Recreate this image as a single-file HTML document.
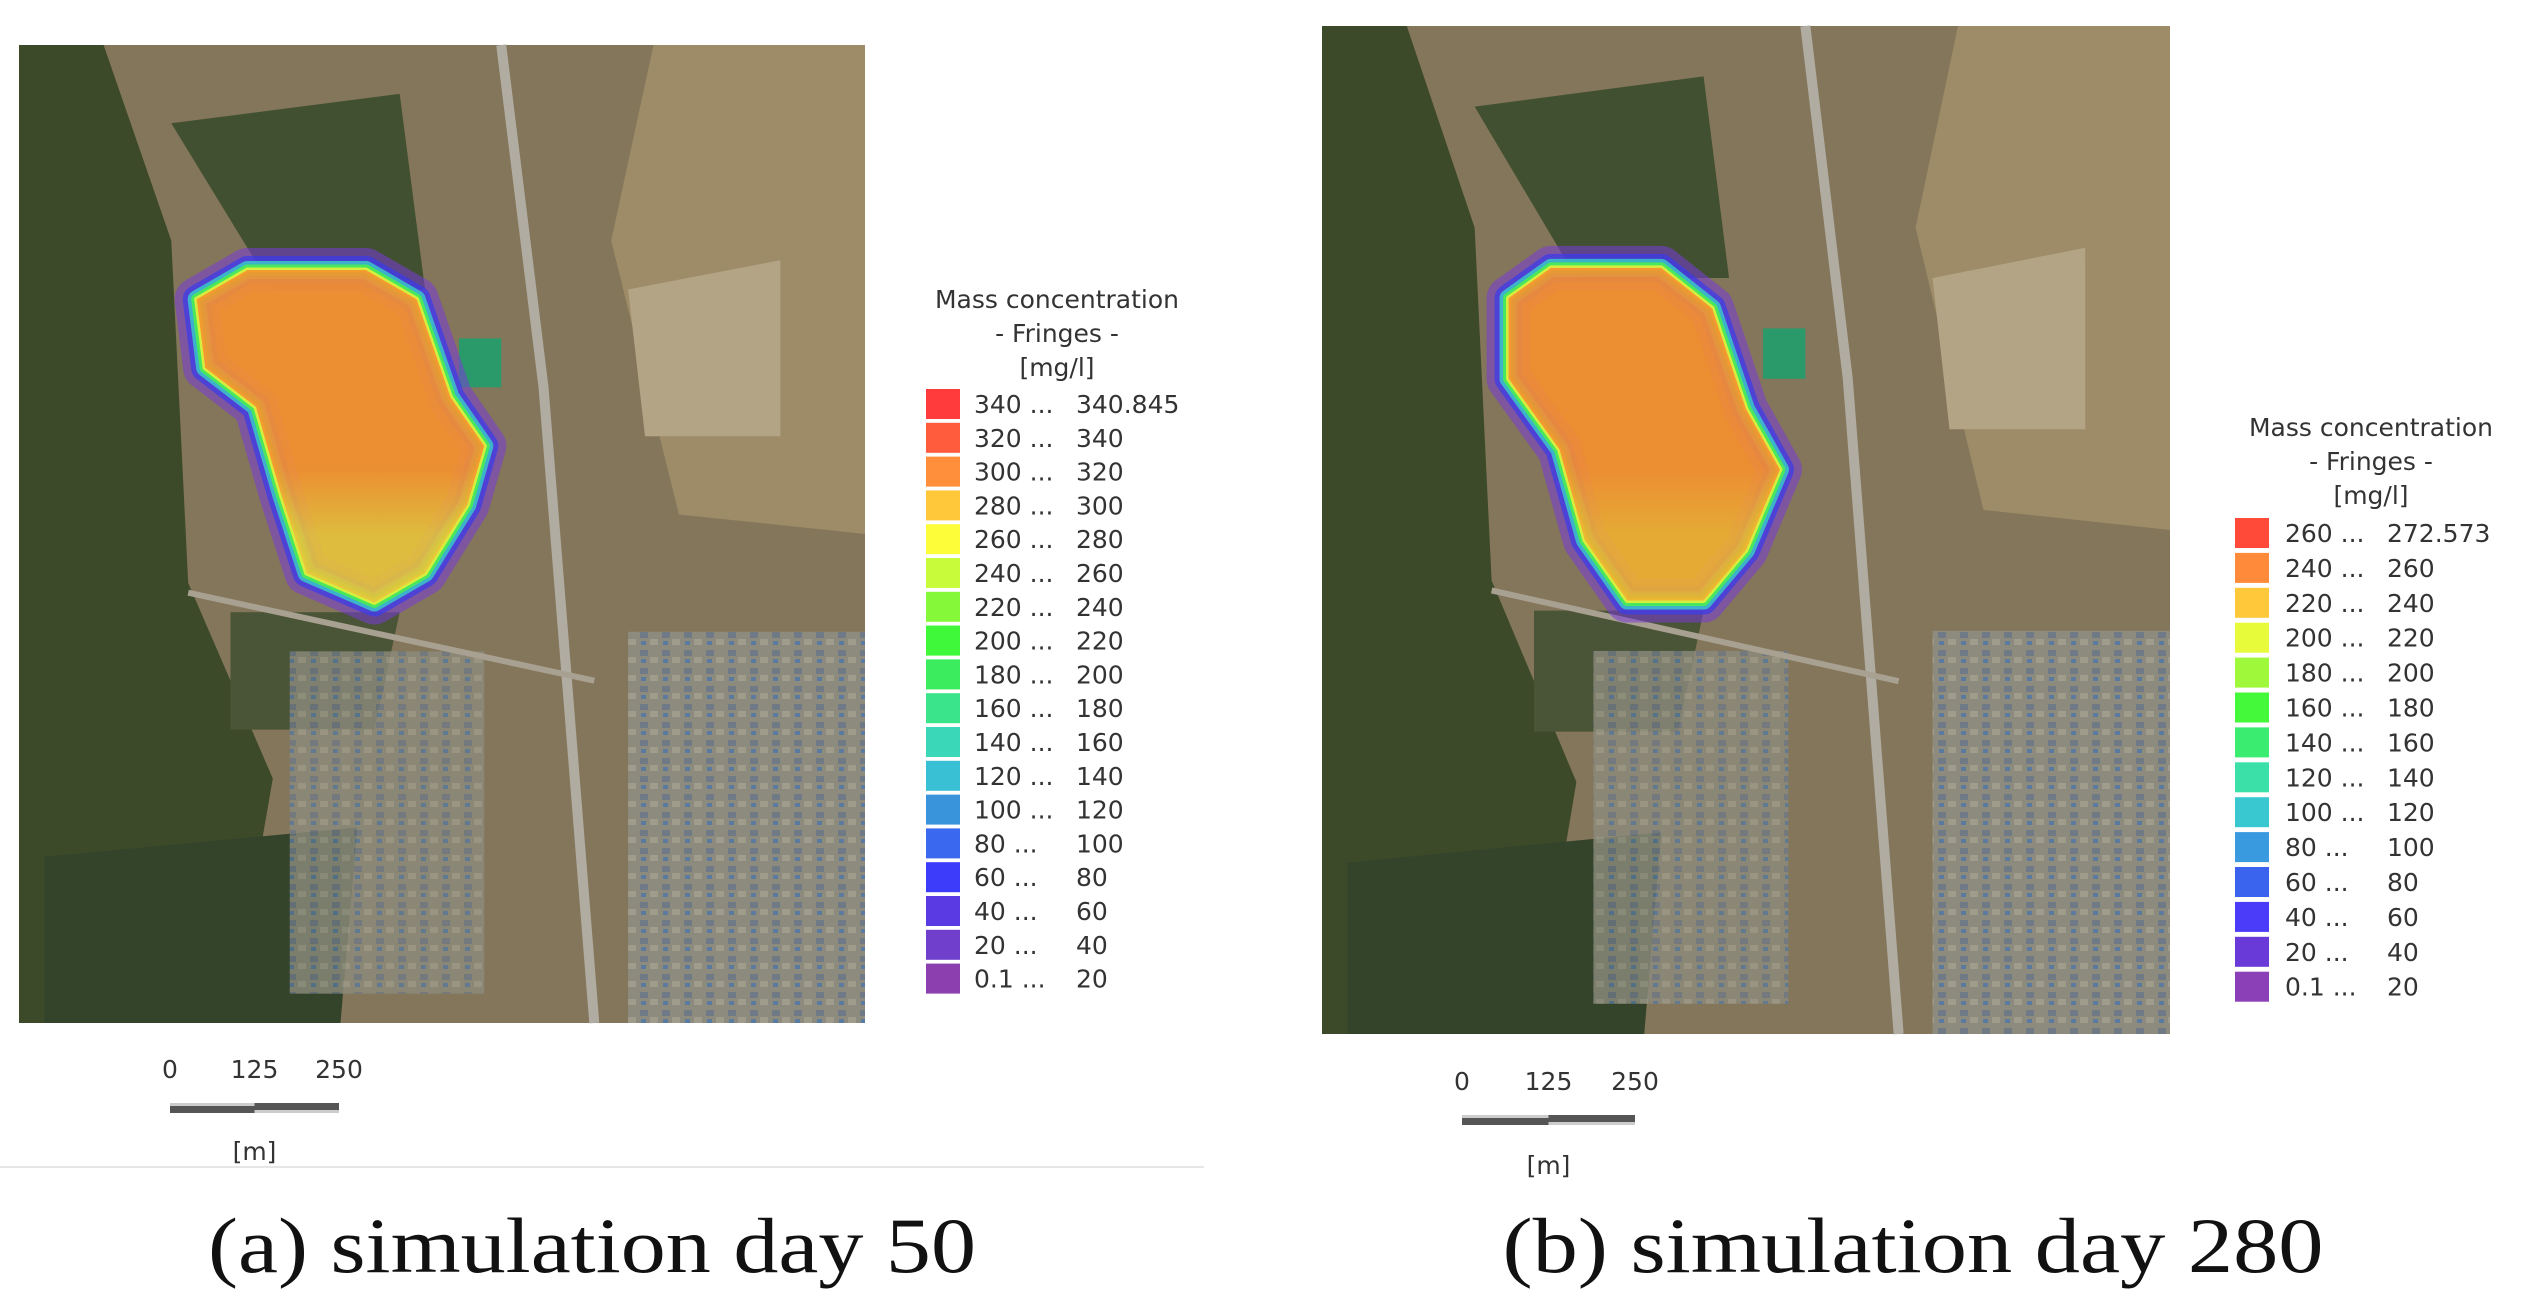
<!DOCTYPE html>
<html><head><meta charset="utf-8"><style>
html,body{margin:0;padding:0;background:#fff;width:2534px;height:1309px;overflow:hidden}
svg{display:block}
.lg{font-family:"DejaVu Sans","Liberation Sans",sans-serif;font-size:25px;fill:#333}
.cap{font-family:"Liberation Serif",serif;font-size:78px;fill:#111}
</style></head><body>
<svg id="fig" width="2534" height="1309" viewBox="0 0 2534 1309">
<defs>
<pattern id="town" width="22" height="18" patternUnits="userSpaceOnUse">
<rect width="22" height="18" fill="#8d8b7e"/><rect x="2" y="2" width="8" height="6" fill="#6f7a86"/><rect x="12" y="9" width="8" height="6" fill="#a09c8c"/><rect x="3" y="11" width="5" height="4" fill="#5a7aa0"/>
</pattern>
</defs>
<g id="mapA"></g>
<g id="mapB"></g>
<g id="legA"></g>
<g id="legB"></g>
<line x1="0" y1="1167" x2="1204" y2="1167" stroke="#e6e6e6" stroke-width="2"/>
<text class="cap" x="592" y="1272" text-anchor="middle" textLength="768" lengthAdjust="spacingAndGlyphs">(a) simulation day 50</text>
<text class="cap" x="1913" y="1272" text-anchor="middle" textLength="821" lengthAdjust="spacingAndGlyphs">(b) simulation day 280</text>
</svg>
<script>
const NS="http://www.w3.org/2000/svg";
const legendLowA=["340","320","300","280","260","240","220","200","180","160","140","120","100","80","60","40","20","0.1"];
const legendHighA=["340.845","340","320","300","280","260","240","220","200","180","160","140","120","100","80","60","40","20"];
const legendColorsA=["#ff3b3b","#ff5c3d","#ff8f3a","#ffc83a","#fdfd3a","#c8fb3a","#86f83a","#40f83a","#3aec5e","#3ae48a","#3ad8b8","#3ac0d4","#3a94dc","#3a68ee","#3c3cfa","#5a3ae2","#7040cc","#8c40b0"];
const legendLowB=["260","240","220","200","180","160","140","120","100","80","60","40","20","0.1"];
const legendHighB=["272.573","260","240","220","200","180","160","140","120","100","80","60","40","20"];
const legendColorsB=["#ff4a3a","#ff8a3a","#ffc83a","#e8fb3a","#a0f83a","#44f83a","#3aec70","#3ae0a8","#3ac8d0","#3a9ae0","#3a64ee","#4a3cf8","#6a3ad8","#8c40b8"];
const scaleTicks=["0","125","250"];

function el(tag,attrs,parent){const e=document.createElementNS(NS,tag);for(const k in attrs)e.setAttribute(k,attrs[k]);parent.appendChild(e);return e;}

function legend(g,cx,titleY,sx,textX,text2X,y0,step,lows,highs,cols){
  const t=["Mass concentration","- Fringes -","[mg/l]"];
  t.forEach((s,i)=>{const e=el("text",{class:"lg",x:cx,y:titleY+i*34,"text-anchor":"middle"},g);e.textContent=s;
    
    });
  lows.forEach((lo,i)=>{
    const y=y0+i*step;
    const r=el("rect",{x:sx,y:y-15,width:34,height:30,fill:cols[i]},g);
    
    
    const a=el("text",{class:"lg",x:textX,y:y+9},g);a.textContent=lo+" ...";
    
    
    const b=el("text",{class:"lg",x:text2X,y:y+9},g);b.textContent=highs[i];
    
    
  });
}
legend(document.getElementById("legA"),1057,308,926,974,1076,404,33.8,legendLowA,legendHighA,legendColorsA);
legend(document.getElementById("legB"),2371,436,2235,2285,2387,533,34.9,legendLowB,legendHighB,legendColorsB);

function map(g,x,y,w,h,plume,fillTop,fillBot){
  const S=(px,py)=>[x+px*w,y+py*h];
  el("rect",{x:x,y:y,width:w,height:h,fill:"#84765a"},g);
  const P=(pts,fill)=>el("path",{d:"M"+pts.map(p=>S(p[0],p[1]).join(",")).join("L")+"Z",fill:fill},g);
  P([[0,0],[0.1,0],[0.18,0.2],[0.2,0.55],[0.3,0.75],[0.25,1],[0,1]],"#3c4a2a");
  P([[0.18,0.08],[0.45,0.05],[0.48,0.25],[0.3,0.25]],"#425032");
  P([[0.03,0.83],[0.4,0.8],[0.38,1],[0.03,1]],"#34442a");
  P([[0.25,0.58],[0.45,0.58],[0.42,0.7],[0.25,0.7]],"#4a5436");
  P([[0.75,0],[1,0],[1,0.5],[0.78,0.48],[0.7,0.2]],"#9e8c68");
  P([[0.72,0.25],[0.9,0.22],[0.9,0.4],[0.74,0.4]],"#b2a484");
  const tx=S(0.72,0.6), te=S(1,1);
  el("rect",{x:tx[0],y:tx[1],width:te[0]-tx[0],height:te[1]-tx[1],fill:"url(#town)"},g);
  const t2=S(0.32,0.62), t3=S(0.55,0.97);
  el("rect",{x:t2[0],y:t2[1],width:t3[0]-t2[0],height:t3[1]-t2[1],fill:"url(#town)",opacity:0.8},g);
  const r1=S(0.57,0),r2=S(0.62,0.35),r3=S(0.68,1);
  el("path",{d:`M${r1}L${r2}L${r3}`,fill:"none",stroke:"#b0aca2","stroke-width":10},g);
  const ro1=S(0.2,0.56),ro2=S(0.68,0.65);
  el("path",{d:`M${ro1}L${ro2}`,fill:"none",stroke:"#a8a090","stroke-width":6},g);
  const pd=S(0.52,0.3);
  el("rect",{x:pd[0],y:pd[1],width:w*0.05,height:h*0.05,fill:"#2a9a6a"},g);
  const d="M"+plume.map(p=>S(p[0],p[1]).join(",")).join("L")+"Z";
  [["#7a3ad8",44,0.55],["#3a3aee",28,0.7],["#3ad0c8",18,0.8],["#4af04a",11,0.85],["#f0f03a",5,0.85]].forEach(s=>{
    el("path",{d:d,fill:"none",stroke:s[0],"stroke-width":s[1],"stroke-linejoin":"round",opacity:s[2]},g);});
  const gid="g"+Math.round(x);
  const lg=el("linearGradient",{id:gid,x1:0,y1:0,x2:0,y2:1},g);
  el("stop",{offset:"0.6",["stop-color"]:fillTop},lg);
  el("stop",{offset:"0.8",["stop-color"]:fillBot},lg);
  el("path",{d:d,fill:`url(#${gid})`,opacity:0.9},g);
}
const plumeA=[[0.21,0.26],[0.27,0.23],[0.41,0.23],[0.47,0.26],[0.51,0.36],[0.55,0.41],[0.53,0.47],[0.48,0.54],[0.42,0.57],[0.34,0.54],[0.31,0.46],[0.28,0.37],[0.22,0.33]];
const plumeB=[[0.22,0.27],[0.27,0.24],[0.4,0.24],[0.46,0.28],[0.5,0.38],[0.54,0.44],[0.5,0.52],[0.45,0.57],[0.36,0.57],[0.31,0.51],[0.28,0.42],[0.22,0.35]];
map(document.getElementById("mapA"),19,45,846,978,plumeA,"#f7922e","#e8c43a");
map(document.getElementById("mapB"),1322,26,848,1008,plumeB,"#f7902e","#f0b030");

function scalebar(x0,x1,yl,yb,ym){
  const g=el("g",{},document.getElementById("fig"));
  
  
  const mid=(x0+x1)/2;
  el("rect",{x:x0,y:yb-5,width:mid-x0,height:10,fill:"#555"},g);
  el("rect",{x:mid,y:yb-5,width:x1-mid,height:10,fill:"#555"},g);
  el("rect",{x:x0,y:yb-5,width:mid-x0,height:3,fill:"#ccc"},g);
  el("rect",{x:mid,y:yb+2,width:x1-mid,height:3,fill:"#ccc"},g);
  scaleTicks.forEach((s,i)=>{const t=el("text",{class:"lg",x:x0+(x1-x0)*i/2,y:yl,"text-anchor":"middle"},g);t.textContent=s;});
  const m=el("text",{class:"lg",x:mid,y:ym,"text-anchor":"middle"},g);m.textContent="[m]";
}
scalebar(170,339,1078,1108,1160);
scalebar(1462,1635,1090,1120,1174);
</script>
</body></html>
